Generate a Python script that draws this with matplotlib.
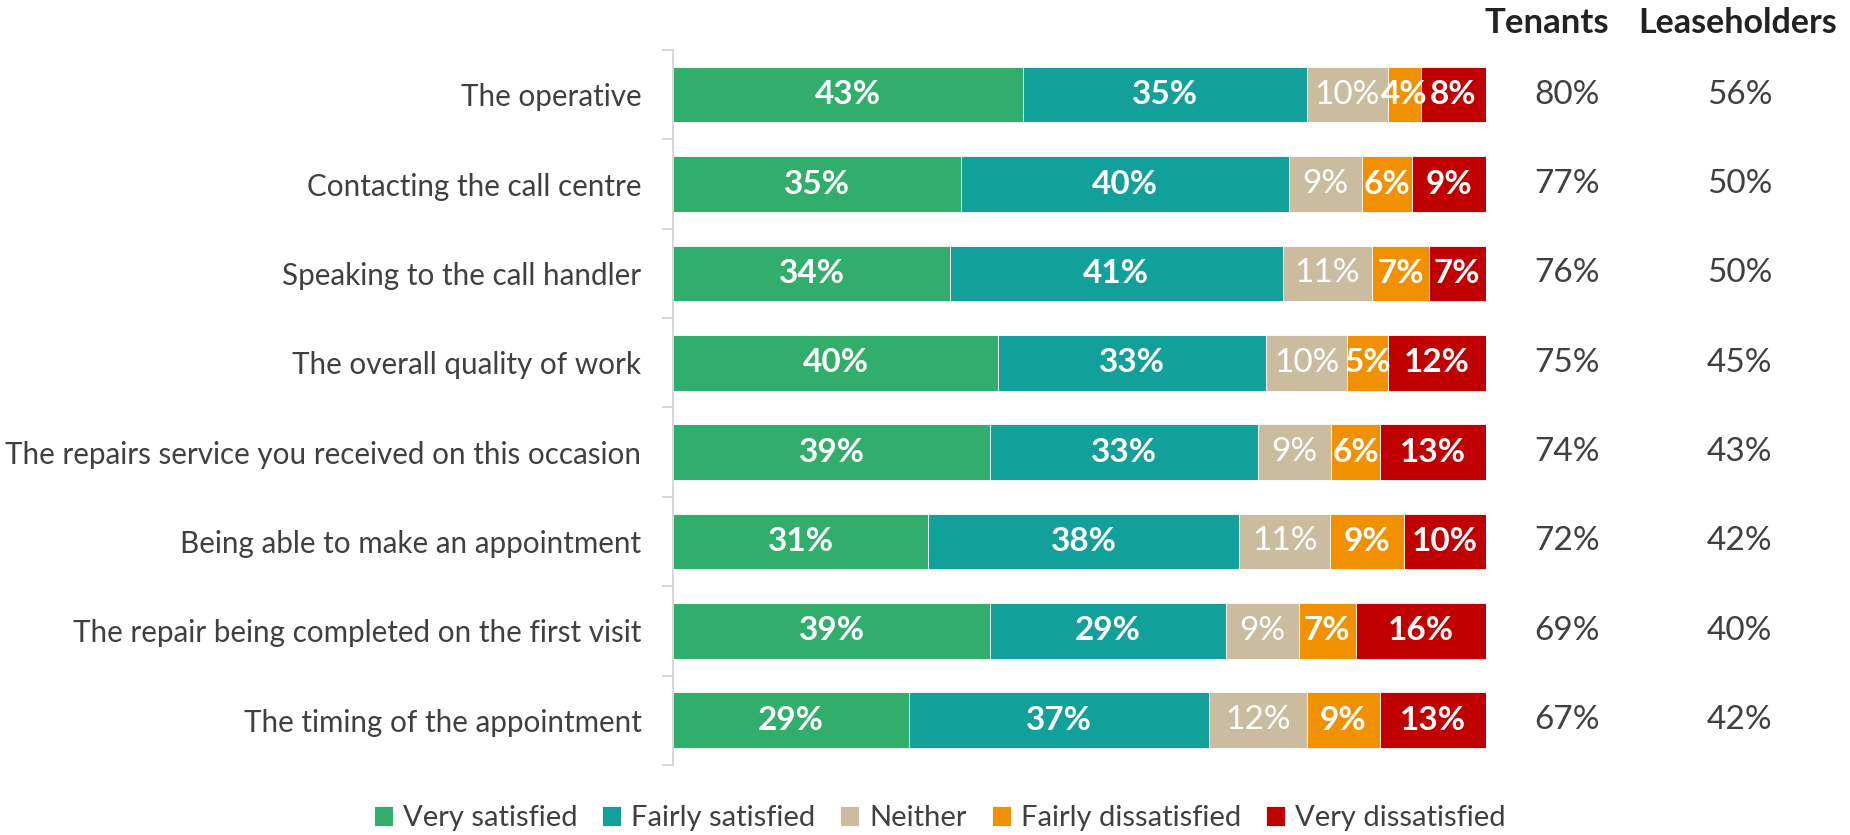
import matplotlib.pyplot as plt
import numpy as np

plt.rcParams['font.family'] = ['Lato', 'DejaVu Sans']

categories = [
    "The operative",
    "Contacting the call centre",
    "Speaking to the call handler",
    "The overall quality of work",
    "The repairs service you received on this occasion",
    "Being able to make an appointment",
    "The repair being completed on the first visit",
    "The timing of the appointment",
]
series_names = ["Very satisfied", "Fairly satisfied", "Neither",
                "Fairly dissatisfied", "Very dissatisfied"]
very_sat = [43, 35, 34, 40, 39, 31, 39, 29]
fairly_sat = [35, 40, 41, 33, 33, 38, 29, 37]
neither = [10, 9, 11, 10, 9, 11, 9, 12]
fairly_dis = [4, 6, 7, 5, 6, 9, 7, 9]
very_dis = [8, 9, 7, 12, 13, 10, 16, 13]
tenants = [80, 77, 76, 75, 74, 72, 69, 67]
leaseholders = [56, 50, 50, 45, 43, 42, 40, 42]

colors = ["#31AE6B", "#12A09A", "#CBBB9F", "#F29100", "#C00000"]
text_grey = "#404040"

fig = plt.figure(figsize=(18.5, 8.35), dpi=100)
ax = fig.add_axes([0.364, 0.084, 0.439, 0.856])

data = np.array([very_sat, fairly_sat, neither, fairly_dis, very_dis], dtype=float)
# bars fill 100% (rounded figures may not sum exactly)
shares = data / data.sum(axis=0) * 100
y = np.arange(len(categories))
left = np.zeros(len(categories))
for i, name in enumerate(series_names):
    ax.barh(y, shares[i], left=left, height=0.62, color=colors[i],
            edgecolor="white", linewidth=0.6, label=name)
    for j in range(len(categories)):
        ax.text(left[j] + shares[i][j] / 2, y[j], f"{int(data[i][j])}%",
                ha="center", va="center", color="white", fontsize=24,
                fontweight="normal" if i == 2 else "bold")
    left += shares[i]

ax.set_xlim(0, 100)
ax.set_ylim(len(categories) - 0.5, -0.5)
ax.set_xticks([])
ax.set_yticks(y)
ax.set_yticklabels(categories, fontsize=21.3, color=text_grey)
ax.tick_params(axis="y", which="major", length=0, pad=23)
ax.set_yticks(np.arange(-0.5, len(categories)), minor=True)
ax.tick_params(axis="y", which="minor", length=8, color="#D0D0D0", width=1.2)
for s in ["top", "right", "bottom"]:
    ax.spines[s].set_visible(False)
ax.spines["left"].set_color("#D0D0D0")
ax.spines["left"].set_linewidth(1.2)

# side columns
for j in range(len(categories)):
    ax.text(1.10, y[j], f"{tenants[j]}%", transform=ax.get_yaxis_transform(),
            ha="center", va="center", fontsize=24, color=text_grey)
    ax.text(1.313, y[j], f"{leaseholders[j]}%", transform=ax.get_yaxis_transform(),
            ha="center", va="center", fontsize=24, color=text_grey)
fig.text(0.836, 0.972, "Tenants", ha="center", va="center", fontsize=25,
         fontweight="bold", color="#222222")
fig.text(0.939, 0.972, "Leaseholders", ha="center", va="center", fontsize=24.5,
         fontweight="bold", color="#222222")

fig.legend(loc="center", bbox_to_anchor=(0.508, 0.02), ncol=5, frameon=False,
           fontsize=21, handlelength=0.65, handleheight=0.7, handletextpad=0.35,
           columnspacing=0.85, labelcolor=text_grey)

fig.savefig("out.png", dpi=100)
